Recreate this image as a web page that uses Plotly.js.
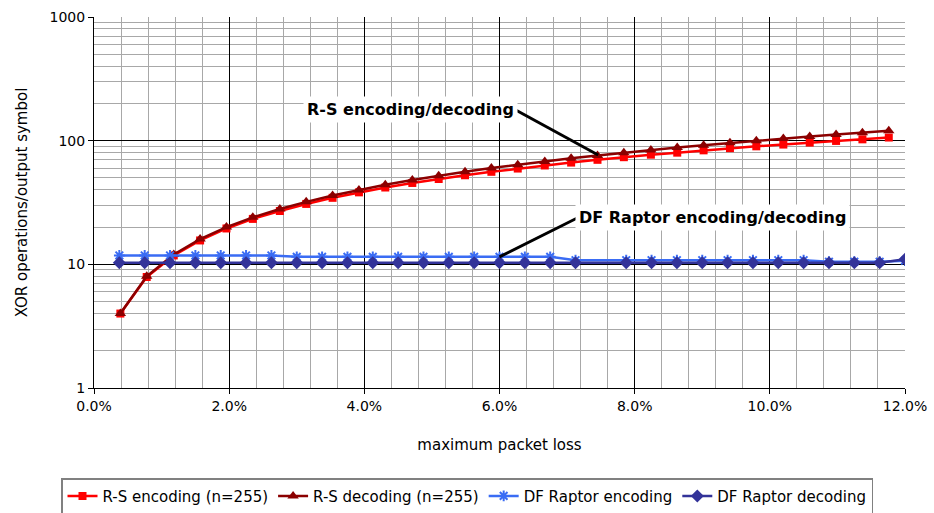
<!DOCTYPE html>
<html>
<head>
<meta charset="utf-8">
<script src="https://cdn.plot.ly/plotly-3.0.1.min.js"></script>
<style>
  html, body { margin: 0; padding: 0; background: #ffffff; }
  #chart { width: 934px; height: 513px; }
</style>
</head>
<body>
<div id="chart"></div>
<script>
// ---- data ----
// maximum packet loss (fraction) for the R-S series
var xRS = [0.0039, 0.0078, 0.0118, 0.0157, 0.0196, 0.0235, 0.0275, 0.0314, 0.0353, 0.0392,
           0.0431, 0.0471, 0.0510, 0.0549, 0.0588, 0.0627, 0.0667, 0.0706, 0.0745, 0.0784,
           0.0824, 0.0863, 0.0902, 0.0941, 0.0980, 0.1020, 0.1059, 0.1098, 0.1137, 0.1176];
var rsEncoding = [4, 7.9, 11.8, 15.6, 19.5, 23.3, 27, 30.8, 34.5, 38.2,
                  41.8, 45.5, 49, 52.5, 56, 59.5, 63, 66.5, 70, 73.5,
                  77, 80, 83.5, 87, 90, 93, 96.5, 99.5, 102.5, 106];
var rsDecoding = [4, 8, 12, 16, 20, 24, 28, 32, 36, 40,
                  44, 48, 52, 56, 60, 64, 68, 72, 76, 80,
                  84, 88, 92, 96, 100, 104, 108, 112, 116, 120];
// maximum packet loss (fraction) for the DF Raptor series
var xDF = [0.00375, 0.0075, 0.01125, 0.015, 0.01875, 0.0225, 0.02625, 0.03, 0.03375, 0.0375,
           0.04125, 0.045, 0.04875, 0.0525, 0.05625, 0.06, 0.06375, 0.0675, 0.07125,
           0.07875, 0.0825, 0.08625, 0.09, 0.09375, 0.0975, 0.10125, 0.105, 0.10875,
           0.1125, 0.11625, 0.12];
var dfEncoding = [11.8, 11.8, 11.8, 11.8, 11.8, 11.8, 11.8,
                  11.5, 11.5, 11.5, 11.5, 11.5, 11.5, 11.5, 11.5, 11.5, 11.5, 11.5,
                  10.8, 10.8, 10.8, 10.8, 10.8, 10.8, 10.8, 10.8, 10.8,
                  10.5, 10.5, 10.5, 10.7];
var dfDecoding = [10.3, 10.3, 10.3, 10.3, 10.3, 10.3, 10.3, 10.3, 10.3, 10.3,
                  10.3, 10.3, 10.3, 10.3, 10.3, 10.3, 10.3, 10.3, 10.3, 10.3,
                  10.3, 10.3, 10.3, 10.3, 10.3, 10.3, 10.3, 10.3, 10.3, 10.3, 11.0];
var seriesNames = ["R-S encoding (n=255)", "R-S decoding (n=255)", "DF Raptor encoding", "DF Raptor decoding"];
var yMajorTicks = [1, 10, 100, 1000];
var yMinorTicks = [2, 3, 4, 5, 6, 7, 8, 9, 20, 30, 40, 50, 60, 70, 80, 90, 200, 300, 400, 500, 600, 700, 800, 900];

var FONT = "DejaVu Sans, Arial, sans-serif";

var traces = [
  { x: xRS, y: rsEncoding, name: seriesNames[0], type: "scatter", mode: "lines+markers",
    line: { color: "#ff0000", width: 2.5 },
    marker: { symbol: "square", size: 8, color: "#ff0000" } },
  { x: xRS, y: rsDecoding, name: seriesNames[1], type: "scatter", mode: "lines+markers",
    line: { color: "#8b0000", width: 2.5 },
    marker: { symbol: "triangle-up", size: 10, color: "#8b0000" } },
  { x: xDF, y: dfEncoding, name: seriesNames[2], type: "scatter", mode: "lines+markers",
    line: { color: "#3a6cf4", width: 2.5 },
    marker: { symbol: "asterisk-open", size: 9, color: "#3a6cf4", line: { color: "#3a6cf4", width: 2 } } },
  { x: xDF, y: dfDecoding, name: seriesNames[3], type: "scatter", mode: "lines+markers",
    line: { color: "#333399", width: 2.5 },
    marker: { symbol: "diamond", size: 10, color: "#333399" } }
];

var layout = {
  width: 934, height: 513,
  margin: { l: 94, r: 29, t: 17, b: 125, autoexpand: false },
  paper_bgcolor: "#ffffff", plot_bgcolor: "#ffffff",
  font: { family: FONT, size: 14, color: "#000000" },
  showlegend: true,
  xaxis: {
    range: [0, 0.12], tick0: 0, dtick: 0.02, tickformat: ".1%",
    showgrid: true, gridcolor: "#000000", gridwidth: 1,
    zeroline: false, showline: true, linecolor: "#000000", linewidth: 1,
    ticks: "outside", ticklen: 5, tickcolor: "#000000",
    tickfont: { family: FONT, size: 14 },
    minor: { dtick: 0.004, tick0: 0, showgrid: true, gridcolor: "#a8a8a8", gridwidth: 1, ticks: "" },
    title: { text: "maximum packet loss", font: { family: FONT, size: 15 }, standoff: 26 }
  },
  yaxis: {
    type: "log", range: [0, 3],
    tickmode: "array", tickvals: yMajorTicks, ticktext: ["1", "10", "100", "1000"],
    showgrid: true, gridcolor: "#000000", gridwidth: 1,
    zeroline: false, showline: true, linecolor: "#000000", linewidth: 1,
    ticks: "outside", ticklen: 5, tickcolor: "#000000",
    tickfont: { family: FONT, size: 14 },
    minor: { tickmode: "array", tickvals: yMinorTicks, showgrid: true, gridcolor: "#a8a8a8", gridwidth: 1, ticks: "" },
    title: { text: "XOR operations/output symbol", font: { family: FONT, size: 15 }, standoff: 18 }
  },
  legend: {
    orientation: "h", xref: "container", yref: "paper",
    x: 0.5, xanchor: "center", y: -0.243, yanchor: "top",
    bordercolor: "#808080", borderwidth: 1.5, bgcolor: "#ffffff",
    font: { family: FONT, size: 15, color: "#000000" },
    itemwidth: 30, tracegroupgap: 0
  },
  shapes: [
    { type: "line", xref: "x", yref: "y", x0: 0.0624, y0: 177, x1: 0.0746, y1: 76.6,
      line: { color: "#000000", width: 3 }, layer: "above" },
    { type: "line", xref: "x", yref: "y", x0: 0.0715, y0: 23.7, x1: 0.0600, y1: 11.5,
      line: { color: "#000000", width: 3 }, layer: "above" }
  ],
  annotations: [
    { xref: "x", yref: "y", x: 0.0468, y: 2.256, showarrow: false,
      text: "<b>R-S encoding/decoding</b>", bgcolor: "#ffffff", borderpad: 3,
      font: { family: FONT, size: 16, color: "#000000" } },
    { xref: "x", yref: "y", x: 0.0915, y: 1.375, showarrow: false,
      text: "<b>DF Raptor encoding/decoding</b>", bgcolor: "#ffffff", borderpad: 3,
      font: { family: FONT, size: 16, color: "#000000" } }
  ]
};

Plotly.newPlot("chart", traces, layout, { displayModeBar: false, staticPlot: true });
</script>
</body>
</html>
